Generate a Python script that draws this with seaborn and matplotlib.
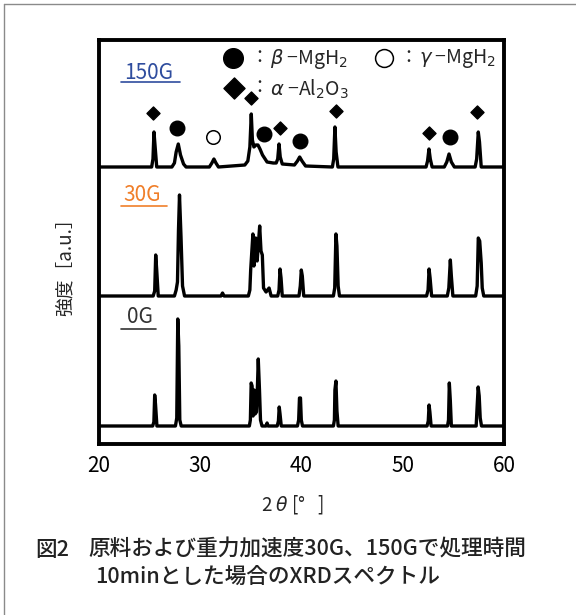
import matplotlib
matplotlib.use("Agg")
import matplotlib.pyplot as plt
from matplotlib.lines import Line2D
import seaborn as sns
import pandas as pd

sns.set_style("white")
plt.rcParams["font.family"] = ["Noto Sans CJK JP", "DejaVu Sans"]
plt.rcParams["mathtext.fontset"] = "dejavusans"

# ---- data (2theta in degrees, intensity in arbitrary units above each baseline) ----
samples = ["0G", "30G", "150G"]
label_colors = ["#333333", "#f07f2a", "#2f4d9e"]
offsets = [18, 148, 277]

tt_0g = [20.0,
         25.3, 25.42, 25.5, 25.58, 25.72,
         27.55, 27.68, 27.78, 27.88, 27.98, 28.12,
         34.85, 34.95, 35.03, 35.12, 35.22, 35.32, 35.42, 35.55, 35.65, 35.73, 35.85, 35.95, 36.1,
         36.5, 36.6, 36.7,
         37.6, 37.72, 37.8, 37.88, 38.0,
         39.6, 39.72, 39.8, 39.9, 39.98, 40.1,
         43.15, 43.25, 43.3, 43.4, 43.5, 43.62,
         52.4, 52.52, 52.6, 52.68, 52.8,
         54.42, 54.52, 54.6, 54.7, 54.8,
         57.25, 57.35, 57.45, 57.55, 57.65, 57.78,
         60.0]
int_0g = [0,
          0, 4, 31, 22, 0,
          0, 8, 107, 80, 6, 0,
          0, 6, 43, 40, 10, 36, 12, 14, 40, 67, 36, 6, 0,
          0, 3, 0,
          0, 5, 19, 12, 0,
          0, 6, 28, 28, 6, 0,
          0, 6, 36, 45, 15, 0,
          0, 5, 21, 14, 0,
          0, 6, 43, 25, 0,
          0, 20, 39, 30, 8, 0,
          0]

tt_30g = [20.0,
          25.35, 25.5, 25.6, 25.7, 25.85,
          27.45, 27.62, 27.75, 27.85, 27.95, 28.1, 28.25, 28.45,
          32.05, 32.2, 32.35,
          34.75, 34.9, 34.98, 35.2, 35.3, 35.47, 35.62, 35.87, 36.0, 36.13, 36.25, 36.5, 36.8, 37.0,
          37.65, 37.78, 37.88, 37.98, 38.1,
          39.75, 39.88, 39.98, 40.08, 40.22,
          43.15, 43.28, 43.4, 43.5, 43.62, 43.75,
          52.35, 52.5, 52.6, 52.7, 52.85,
          54.4, 54.55, 54.7, 54.8, 54.95,
          57.2, 57.35, 57.46, 57.6, 57.75, 57.85, 58.0,
          60.0]
int_30g = [0,
           0, 5, 41, 26, 0,
           0, 6, 14, 66, 101, 59, 10, 0,
           0, 3, 0,
           0, 6, 26, 62, 30, 58, 35, 70, 45, 41, 8, 4, 8, 0,
           0, 6, 27, 18, 0,
           0, 10, 26, 20, 0,
           0, 8, 62, 50, 10, 0,
           0, 6, 27, 18, 0,
           0, 8, 36, 20, 0,
           0, 10, 58, 55, 33, 8, 0,
           0]

tt_150g = [20.0,
           25.2, 25.33, 25.43, 25.53, 25.7,
           27.2, 27.45, 27.62, 27.83, 28.05, 28.35, 28.6,
           30.9, 31.15, 31.35, 31.55, 31.8,
           34.4, 34.7, 34.9, 35.04, 35.15, 35.3, 35.5, 35.7, 35.9, 36.15, 36.6, 37.2,
           37.5, 37.65, 37.78, 37.9, 38.1,
           39.3, 39.6, 39.82, 40.05, 40.4,
           43.05, 43.18, 43.3, 43.42, 43.6,
           52.3, 52.45, 52.59, 52.72, 52.9,
           54.1, 54.35, 54.57, 54.8, 55.1,
           57.15, 57.3, 57.46, 57.58, 57.75,
           60.0]
int_150g = [0,
            0, 8, 35, 22, 0,
            0, 4, 15, 23, 12, 3, 0,
            0, 4, 8, 4, 0,
            2, 6, 20, 53, 27, 20, 22, 22, 18, 12, 5, 4,
            4, 8, 23, 10, 3,
            2, 6, 10, 6, 1,
            0, 8, 40, 15, 0,
            0, 6, 18, 8, 0,
            0, 5, 13, 5, 0,
            0, 8, 35, 25, 0,
            0]

# peak markers (150G)
al2o3_x = [25.36, 35.01, 37.88, 43.38, 52.6, 57.36]
al2o3_y = [331, 346, 316, 333, 311, 332]
beta_x = [27.74, 36.3, 39.85, 54.67]
beta_y = [316, 310, 303, 307]
gamma_x = [31.23]
gamma_y = [307]

xticks = [20, 30, 40, 50, 60]
xticks_minor = [25, 35, 45, 55]

W, H = 576, 615


def fx(px):
    return px / W


def fy(py):
    return 1 - py / H


frames = []
for name, tt, inten, off in zip(samples, [tt_0g, tt_30g, tt_150g],
                                [int_0g, int_30g, int_150g], offsets):
    frames.append(pd.DataFrame({"two_theta": tt,
                                "intensity": [v + off for v in inten],
                                "sample": name}))
df = pd.concat(frames, ignore_index=True)

fig = plt.figure(figsize=(W / 100, H / 100), dpi=100)
ax = fig.add_axes([fx(99), fy(444), (504 - 99) / W, (444 - 40) / H])

for name in samples:
    sub = df[df["sample"] == name]
    sns.lineplot(data=sub, x="two_theta", y="intensity", color="black",
                 lw=2.4, ax=ax, sort=False)

ax.scatter(al2o3_x, al2o3_y, marker="D", s=44, color="black", zorder=5)
ax.scatter(beta_x, beta_y, marker="o", s=110, color="black", zorder=5)
ax.scatter(gamma_x, gamma_y, marker="o", s=95, facecolor="white",
           edgecolor="black", linewidth=1.1, zorder=5)

ax.set_xlim(20, 60)
ax.set_ylim(0, 404)
ax.set_xticks(xticks)
ax.set_xticks(xticks_minor, minor=True)
ax.set_yticks([])
ax.set_xlabel("")
ax.set_ylabel("")
ax.tick_params(axis="x", which="major", direction="in", length=6, width=1.8,
               labelsize=15, pad=8, colors="black")
ax.tick_params(axis="x", which="minor", direction="in", length=2.5, width=1.8)
for sp in ax.spines.values():
    sp.set_visible(True)
    sp.set_color("black")
    sp.set_linewidth(2.8)
    sp.set_joinstyle("round")

# sample labels with underline
lab_pos = [(127, 317, 121, 156, 329), (123, 195, 121, 167, 206), (124, 73, 121, 180, 82)]
for name, col, (tx, ty, ux0, ux1, uy) in zip(samples, label_colors, lab_pos):
    fig.text(fx(tx), fy(ty), name, color=col, fontsize=15, ha="left", va="center")
    fig.add_artist(Line2D([fx(ux0), fx(ux1)], [fy(uy), fy(uy)], color=col, lw=1.2))

# legend glyphs
ax.scatter([33.23], [386], marker="o", s=200, color="black", clip_on=False, zorder=6)
ax.scatter([48.15], [386], marker="o", s=165, facecolor="white", edgecolor="black",
           linewidth=1.1, clip_on=False, zorder=6)
ax.scatter([33.33], [356], marker="D", s=115, color="black", clip_on=False, zorder=6)
for px_c, py_c in [(250, 58), (399, 58), (250, 88)]:
    fig.text(fx(px_c), fy(py_c), "：", fontsize=13, ha="left", va="center")
fig.text(fx(270), fy(59), r"$\beta$ −MgH$_2$", fontsize=14, ha="left", va="center")
fig.text(fx(419), fy(59), r"$\gamma$ −MgH$_2$", fontsize=14, ha="left", va="center")
fig.text(fx(270), fy(89), r"$\alpha$ −Al$_2$O$_3$", fontsize=14, ha="left", va="center")

# axis labels
fig.text(fx(292), fy(505), r"2 $\theta$ [°   ]", fontsize=13.5, ha="center", va="center")
fig.text(fx(65), fy(262), "強度［a.u.］", fontsize=13.5, rotation=90,
         ha="center", va="center")

# caption
fig.text(fx(35), fy(550), "図2", fontsize=15.6, ha="left", va="center",
         color="#222222", weight="medium")
fig.text(fx(88), fy(550), "原料および重力加速度30G、150Gで処理時間",
         fontsize=15.6, ha="left", va="center", color="#222222", weight="medium")
fig.text(fx(95), fy(577), "10minとした場合のXRDスペクトル",
         fontsize=15.6, ha="left", va="center", color="#222222", weight="medium")

# outer border (top and left edges)
fig.add_artist(Line2D([fx(4), fx(4)], [fy(4), 0], color="#8a8a8a", lw=1.0))
fig.add_artist(Line2D([fx(4), 1], [fy(4), fy(4)], color="#8a8a8a", lw=1.0))

fig.savefig("out.png", dpi=100)
